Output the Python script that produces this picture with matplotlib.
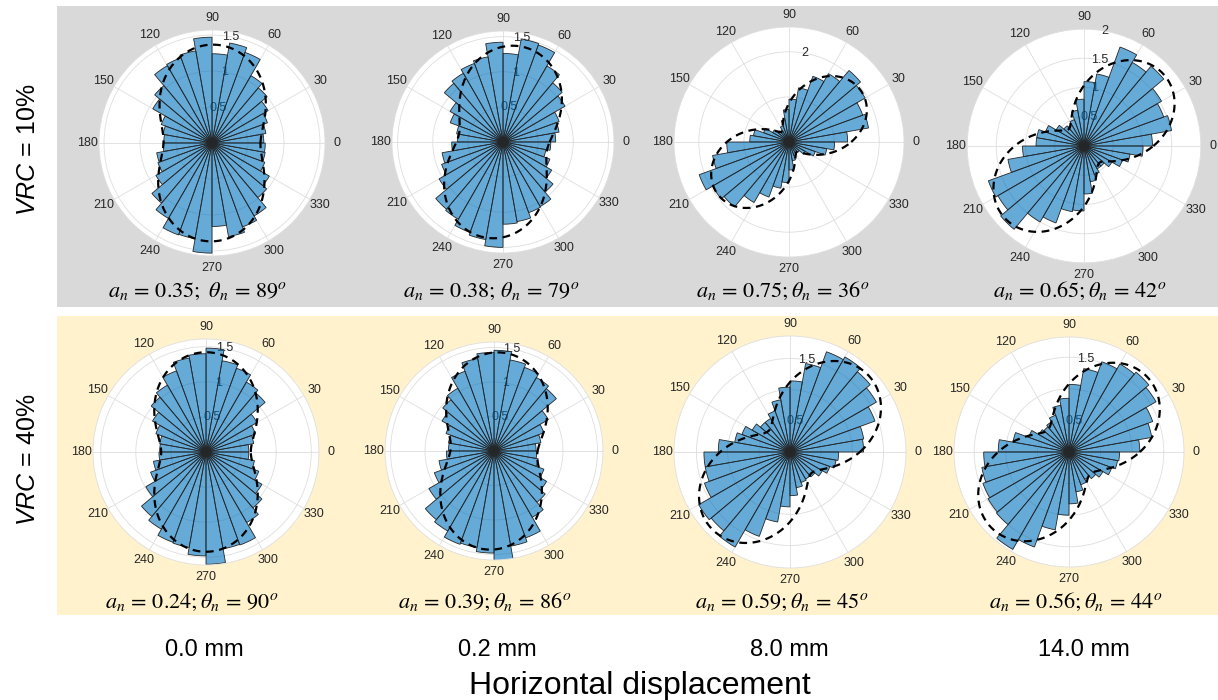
import numpy as np
import matplotlib
matplotlib.use("Agg")
import matplotlib.pyplot as plt
from matplotlib.patches import Rectangle

plt.rcParams['font.family'] = ['Liberation Sans', 'DejaVu Sans']
plt.rcParams['mathtext.fontset'] = 'custom'
plt.rcParams['mathtext.it'] = 'Liberation Sans:italic'
plt.rcParams['mathtext.rm'] = 'Liberation Sans'

# ---------------- data ----------------
bin_edges_deg = np.arange(0, 370, 10)          # 36 bins of 10 degrees
theta_tick_labels = ['0', '30', '60', '90', '120', '150', '180', '210', '240', '270', '300', '330']
row_labels = ['10%', '40%']
col_labels = ['0.0 mm', '0.2 mm', '8.0 mm', '14.0 mm']

# normalized frequency per bin (bins 0-10, 10-20, ..., 350-360)
r10_d00 = [0.72, 0.76, 0.82, 0.90, 1.00, 1.08, 1.34, 1.41, 1.24, 1.47, 1.30, 1.26,
           1.24, 1.04, 0.95, 0.75, 0.69, 0.67, 0.68, 0.78, 0.80, 0.90, 1.09, 1.21,
           1.36, 1.35, 1.53, 1.16, 1.32, 1.24, 1.17, 0.99, 0.92, 0.78, 0.75, 0.74]
r10_d02 = [0.75, 0.81, 0.85, 1.02, 1.10, 1.25, 1.47, 1.49, 1.26, 1.42, 1.23, 1.19,
           1.13, 1.09, 0.87, 0.80, 0.67, 0.65, 0.73, 0.88, 0.93, 1.05, 1.25, 1.27,
           1.37, 1.41, 1.50, 1.17, 1.15, 1.07, 1.06, 0.93, 0.80, 0.71, 0.62, 0.68]
r10_d80 = [1.30, 1.79, 1.74, 1.95, 2.07, 1.75, 1.55, 1.22, 0.95, 0.72, 0.50, 0.38,
           0.30, 0.32, 0.42, 0.60, 0.80, 0.87, 1.38, 1.72, 2.12, 1.96, 1.88, 1.55,
           1.30, 1.04, 0.90, 0.62, 0.42, 0.32, 0.27, 0.30, 0.42, 0.62, 0.85, 1.01]
r10_d140 = [1.17, 1.52, 1.45, 1.53, 1.78, 1.65, 1.80, 1.25, 1.10, 0.80, 0.62, 0.48,
            0.42, 0.45, 0.55, 0.70, 0.82, 0.82, 1.05, 1.32, 1.74, 1.70, 1.86, 1.50,
            1.40, 1.14, 1.11, 0.82, 0.62, 0.52, 0.45, 0.45, 0.55, 0.70, 0.80, 1.01]
r40_d00 = [0.61, 0.69, 0.75, 0.84, 1.10, 1.15, 1.27, 1.32, 1.48, 1.40, 1.36, 1.23,
           1.10, 1.02, 0.88, 0.76, 0.67, 0.66, 0.67, 0.76, 0.84, 0.99, 1.20, 1.27,
           1.37, 1.38, 1.48, 1.60, 1.40, 1.41, 1.16, 1.04, 0.92, 0.80, 0.70, 0.61]
r40_d02 = [0.61, 0.69, 0.77, 0.91, 1.18, 1.23, 1.29, 1.34, 1.46, 1.43, 1.36, 1.23,
           1.05, 0.97, 0.87, 0.74, 0.67, 0.66, 0.69, 0.81, 0.92, 1.09, 1.30, 1.34,
           1.44, 1.42, 1.48, 1.60, 1.40, 1.34, 1.11, 0.97, 0.88, 0.77, 0.65, 0.62]
r40_d80 = [1.18, 1.20, 1.45, 1.60, 1.68, 1.76, 1.71, 1.44, 1.14, 1.04, 0.85, 0.70,
           0.62, 0.62, 0.70, 0.82, 0.90, 1.15, 1.38, 1.38, 1.46, 1.69, 1.65, 1.76,
           1.44, 1.14, 0.88, 0.70, 0.58, 0.52, 0.50, 0.52, 0.60, 0.68, 0.75, 0.78]
r40_d140 = [1.12, 1.33, 1.41, 1.59, 1.65, 1.61, 1.52, 1.34, 1.07, 0.85, 0.75, 0.62,
            0.55, 0.52, 0.55, 0.68, 0.90, 1.12, 1.35, 1.40, 1.45, 1.48, 1.50, 1.78,
            1.60, 1.25, 1.00, 0.82, 0.64, 0.55, 0.50, 0.55, 0.62, 0.72, 0.78, 0.80]
panel_values = [r10_d00, r10_d02, r10_d80, r10_d140, r40_d00, r40_d02, r40_d80, r40_d140]

# caption values
a_n = [0.35, 0.38, 0.75, 0.65, 0.24, 0.39, 0.59, 0.56]
theta_n = [89, 79, 36, 42, 90, 86, 45, 44]

# dashed fitted curve parameters (as drawn)
fit_A = [1.02, 1.01, 1.12, 1.11, 1.03, 1.03, 1.12, 1.10]
fit_a = [0.34, 0.37, 0.75, 0.65, 0.38, 0.39, 0.57, 0.56]
fit_theta = [89, 79, 36, 42, 90, 86, 45, 44]

# radial limits / ticks
r_max = [1.57, 1.58, 2.55, 2.0, 1.61, 1.58, 1.86, 1.82]
r_ticks = [[0.5, 1, 1.5], [0.5, 1, 1.5], [1, 2], [0.5, 1, 1.5, 2],
           [0.5, 1, 1.5], [0.5, 1, 1.5], [0.5, 1, 1.5], [0.5, 1, 1.5]]
r_tick_labels = [['0.5', '1', '1.5'], ['0.5', '1', '1.5'], ['', '2'], ['0.5', '1', '1.5', '2'],
                 ['0.5', '1', '1.5'], ['0.5', '1', '1.5'], ['0.5', '', '1.5'], ['0.5', '', '1.5']]

# ---------------- layout (pixels) ----------------
W, H = 1218, 700
centers = [(212, 143, 113), (503, 142, 111), (789, 142, 115), (1084, 146, 117),
           (206, 452, 113), (494, 451, 109), (790, 452, 116), (1069, 452, 115)]
caption_x = [197, 491, 783, 1080, 192, 485, 782, 1076]
caption_y = [291, 291, 291, 291, 602, 602, 602, 602]
caption_sep = [r'\ ', r'\,', '', '', '', '', '', '']
col_x = [204, 497, 789, 1084]

fig = plt.figure(figsize=(W / 100, H / 100), dpi=100)

fig.add_artist(Rectangle((57 / W, 1 - 307 / H), (W - 57) / W, (307 - 6) / H,
                         transform=fig.transFigure, facecolor='#d9d9d9',
                         edgecolor='none', zorder=-10))
fig.add_artist(Rectangle((57 / W, 1 - 615 / H), (W - 57) / W, (615 - 316) / H,
                         transform=fig.transFigure, facecolor='#fff2cc',
                         edgecolor='none', zorder=-10))

theta_left = np.deg2rad(bin_edges_deg[:-1])
bin_w = np.deg2rad(10)
th = np.linspace(0, 2 * np.pi, 721)

for i, vals in enumerate(panel_values):
    cx, cy, R = centers[i]
    ax = fig.add_axes([(cx - R) / W, 1 - (cy + R) / H, 2 * R / W, 2 * R / H],
                      projection='polar')
    ax.set_facecolor('white')
    ax.set_axisbelow(True)
    ax.bar(theta_left, vals, width=bin_w, align='edge',
           facecolor=(0, 0.447, 0.741, 0.6), edgecolor='#262626',
           linewidth=0.6, zorder=2)
    r_fit = fit_A[i] * (1 + fit_a[i] * np.cos(2 * (th - np.deg2rad(fit_theta[i]))))
    ax.plot(th, r_fit, color='black', lw=1.6, ls=(0, (3.5, 2.5)), zorder=3)
    ax.set_ylim(0, r_max[i])
    ax.set_thetagrids(np.arange(0, 360, 30), labels=theta_tick_labels)
    ax.set_rticks(r_ticks[i])
    ax.set_yticklabels([])
    for rv, rl in zip(r_ticks[i], r_tick_labels[i]):
        ax.text(np.deg2rad(80), rv, rl, ha='center', va='center', fontsize=9,
                color='#262626', zorder=1.5)
    ax.grid(color='#dedede', lw=0.6)
    ax.spines['polar'].set_color('#dedede')
    ax.spines['polar'].set_linewidth(0.6)
    ax.tick_params(axis='x', labelsize=9, colors='#262626', pad=-2)

    cap = r'$a_n\,=\,%.2f;%s\theta_n\,=\,%d^o$' % (a_n[i], caption_sep[i], theta_n[i])
    fig.text(caption_x[i] / W, 1 - caption_y[i] / H, cap, ha='center', va='center',
             fontsize=16, math_fontfamily='stix')

for j, lab in enumerate(col_labels):
    fig.text(col_x[j] / W, 1 - 650 / H, lab, ha='center', va='center', fontsize=17)

fig.text(640 / W, 1 - 686 / H, 'Horizontal displacement', ha='center', va='center',
         fontsize=23)

for k, lab in enumerate(row_labels):
    fig.text(28 / W, 1 - (150 + 310 * k) / H, r'$\mathit{VRC}$ = ' + lab, rotation=90,
             ha='center', va='center', fontsize=18, math_fontfamily='custom')

fig.savefig('out.png', dpi=100)
